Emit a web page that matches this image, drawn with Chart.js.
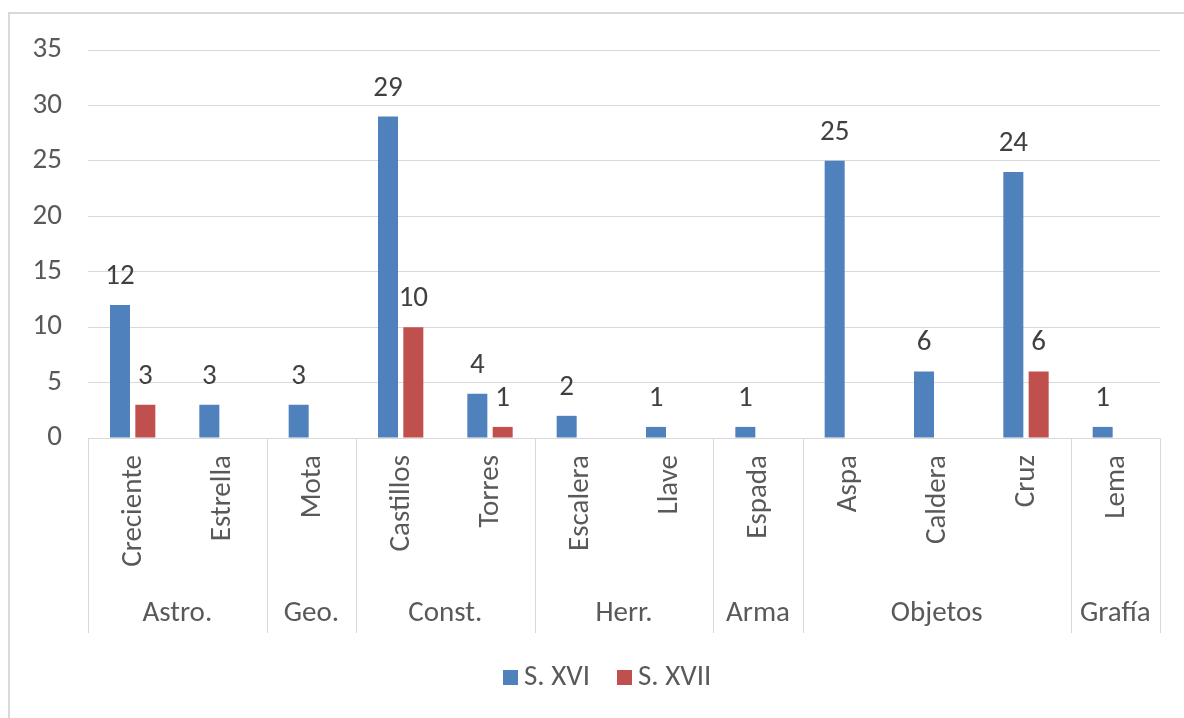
<!DOCTYPE html>
<html>
<head>
<meta charset="utf-8">
<script src="https://cdn.jsdelivr.net/npm/chart.js@4/dist/chart.umd.min.js"></script>
<style>
  html, body { margin: 0; padding: 0; background: #ffffff; }
  #wrap { width: 1184px; height: 718px; position: relative; }
</style>
</head>
<body>
<div id="wrap"><canvas id="c" width="1184" height="718"></canvas></div>
<script>
// ---- data ----
const categories = ['Creciente', 'Estrella', 'Mota', 'Castillos', 'Torres', 'Escalera', 'Llave', 'Espada', 'Aspa', 'Caldera', 'Cruz', 'Lema'];
const groupNames = ['Astro.', 'Geo.', 'Const.', 'Herr.', 'Arma', 'Objetos', 'Grafía'];
const groupSizes = [2, 1, 2, 2, 1, 3, 1];
const seriesNames = ['S. XVI', 'S. XVII'];
const sXVI = [12, 3, 3, 29, 4, 2, 1, 1, 25, 6, 24, 1];
const sXVII = [3, null, null, 10, 1, null, null, null, null, null, 6, null];
const yTicks = [0, 5, 10, 15, 20, 25, 30, 35];

const FONT = "Carlito, Lato, 'Open Sans', sans-serif";
const FS = 29;
const colors = ['#4F81BD', '#C0504D'];

const framePlugin = {
  id: 'frame',
  beforeDraw(chart) {
    const ctx = chart.ctx;
    ctx.save();
    ctx.fillStyle = '#ffffff';
    ctx.fillRect(0, 0, chart.width, chart.height);
    ctx.strokeStyle = '#d9d9d9';
    ctx.lineWidth = 2;
    ctx.beginPath();
    ctx.moveTo(9, chart.height);
    ctx.lineTo(9, 13);
    ctx.lineTo(chart.width, 13);
    ctx.stroke();
    ctx.restore();
  }
};

const axisPlugin = {
  id: 'multiAxis',
  afterDraw(chart) {
    const ctx = chart.ctx;
    const xs = chart.scales.x;
    const area = chart.chartArea;
    const step = (xs.getPixelForValue(1) - xs.getPixelForValue(0));
    ctx.save();
    // rotated category labels
    ctx.font = FS + 'px ' + FONT;
    ctx.fillStyle = '#595959';
    categories.forEach((c, i) => {
      const cx = xs.getPixelForValue(i);
      ctx.save();
      ctx.translate(cx + 1, area.bottom + 17);
      ctx.rotate(-Math.PI / 2);
      ctx.textAlign = 'right';
      ctx.textBaseline = 'middle';
      ctx.fillText(c, 0, 0);
      ctx.restore();
    });
    // dividers
    ctx.strokeStyle = '#d9d9d9';
    ctx.lineWidth = 1;
    const lineBottom = 633;
    let idx = 0;
    const bounds = [];
    groupSizes.forEach(n => { bounds.push(idx); idx += n; });
    bounds.push(idx);
    bounds.forEach(b => {
      const px = Math.round(xs.getPixelForValue(b) - step / 2) + 0.5;
      ctx.beginPath();
      ctx.moveTo(px, area.bottom);
      ctx.lineTo(px, lineBottom);
      ctx.stroke();
    });
    // group labels
    ctx.textAlign = 'center';
    ctx.textBaseline = 'middle';
    groupNames.forEach((g, k) => {
      const l = xs.getPixelForValue(bounds[k]) - step / 2;
      const r = xs.getPixelForValue(bounds[k + 1]) - step / 2;
      ctx.fillText(g, (l + r) / 2, 614);
    });
    // legend
    ctx.textAlign = 'left';
    const legendY = 678;
    const items = [{x: 503, t: seriesNames[0], c: colors[0]}, {x: 617, t: seriesNames[1], c: colors[1]}];
    items.forEach(it => {
      ctx.fillStyle = it.c;
      ctx.fillRect(it.x, legendY - 8, 15, 15);
      ctx.fillStyle = '#595959';
      ctx.fillText(it.t, it.x + 21, legendY);
    });
    ctx.restore();
  }
};

const labelPlugin = {
  id: 'barLabels',
  afterDatasetsDraw(chart) {
    const ctx = chart.ctx;
    ctx.save();
    ctx.font = FS + 'px ' + FONT;
    ctx.fillStyle = '#404040';
    ctx.textAlign = 'center';
    ctx.textBaseline = 'alphabetic';
    chart.data.datasets.forEach((ds, di) => {
      const meta = chart.getDatasetMeta(di);
      meta.data.forEach((el, i) => {
        const v = ds.data[i];
        if (v === null || v === undefined) return;
        ctx.fillText(String(v), el.x, el.y - 21);
      });
    });
    ctx.restore();
  }
};

new Chart(document.getElementById('c'), {
  type: 'bar',
  data: {
    labels: categories,
    datasets: [
      { label: seriesNames[0], data: sXVI, backgroundColor: colors[0], categoryPercentage: 0.567, barPercentage: 0.79 },
      { label: seriesNames[1], data: sXVII, backgroundColor: colors[1], categoryPercentage: 0.567, barPercentage: 0.79 }
    ]
  },
  options: {
    responsive: false,
    animation: false,
    devicePixelRatio: 1,
    layout: { padding: { top: 50, right: 24, left: 0, bottom: 0 } },
    plugins: { legend: { display: false }, tooltip: { enabled: false } },
    scales: {
      x: {
        ticks: { display: false },
        grid: { display: false },
        border: { display: false },
        afterFit(scale) { scale.height = 280; }
      },
      y: {
        min: 0,
        max: 35,
        afterBuildTicks(scale) { scale.ticks = yTicks.map(v => ({ value: v })); },
        ticks: { color: '#595959', font: { family: FONT, size: FS }, padding: 26 },
        grid: { color: '#d9d9d9', lineWidth: 1, drawTicks: false },
        border: { display: false },
        afterFit(scale) { scale.width = 88; }
      }
    }
  },
  plugins: [framePlugin, axisPlugin, labelPlugin]
});
</script>
</body>
</html>
